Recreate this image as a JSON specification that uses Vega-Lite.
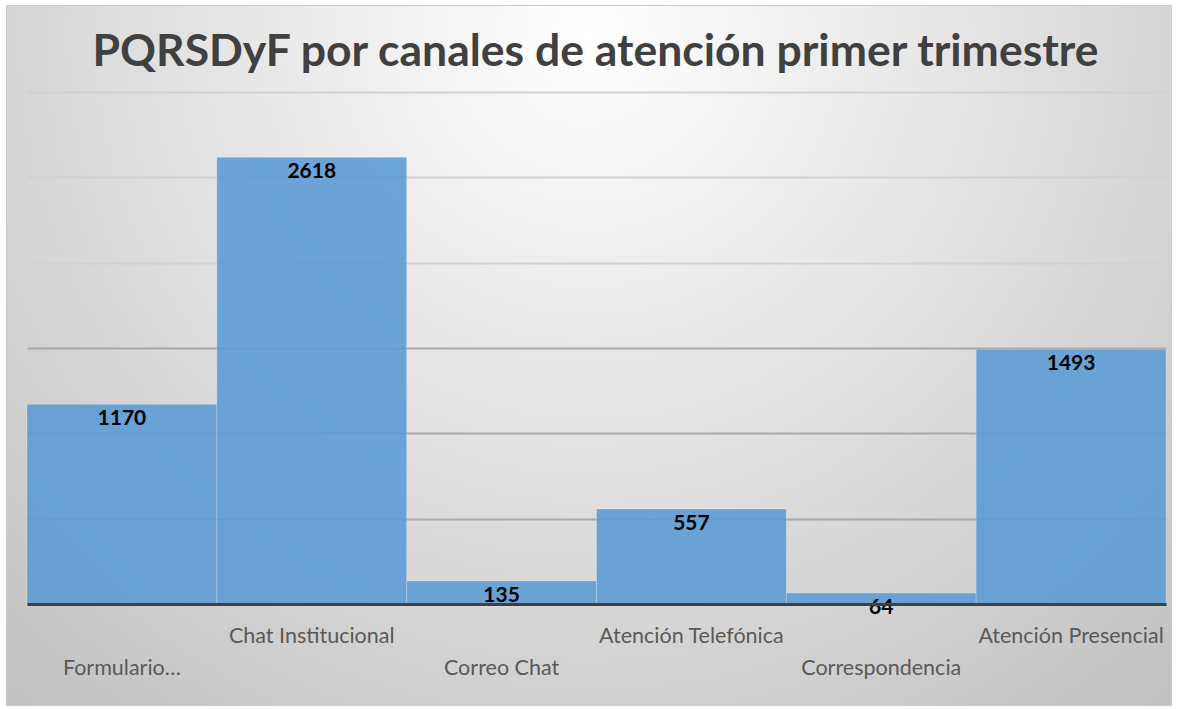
{
  "$schema": "https://vega.github.io/schema/vega-lite/v6.json",
  "width": 1165,
  "height": 700,
  "autosize": {"type": "none"},
  "padding": {"left": 6, "top": 5, "right": 6, "bottom": 4},
  "background": "#ffffff",
  "view": {
    "fill": {
      "gradient": "radial",
      "x1": 0.5, "y1": 0.225, "r1": 0,
      "x2": 0.5, "y2": 0.225, "r2": 0.8,
      "stops": [
        {"offset": 0, "color": "#ffffff"},
        {"offset": 1, "color": "#bebebe"}
      ]
    },
    "stroke": "#c8c8c8",
    "strokeWidth": 1
  },
  "title": {
    "text": "PQRSDyF por canales de atención primer trimestre",
    "font": "Lato",
    "fontSize": 44.5,
    "fontWeight": "bold",
    "color": "#404040",
    "anchor": "middle",
    "frame": "group",
    "baseline": "alphabetic",
    "offset": -105,
    "dx": 7
  },
  "data": {
    "values": [
      {"canal": "Formulario…", "valor": 1170},
      {"canal": "Chat Institucional", "valor": 2618},
      {"canal": "Correo Chat", "valor": 135},
      {"canal": "Atención Telefónica", "valor": 557},
      {"canal": "Correspondencia", "valor": 64},
      {"canal": "Atención Presencial", "valor": 1493}
    ]
  },
  "encoding": {
    "x": {
      "field": "canal",
      "type": "nominal",
      "sort": null,
      "scale": {"range": [21, 1160], "paddingInner": 0, "paddingOuter": 0},
      "axis": {
        "title": null,
        "orient": "bottom",
        "offset": -101,
        "zindex": 1,
        "domain": true,
        "domainColor": "#404040",
        "domainWidth": 3,
        "ticks": false,
        "grid": false,
        "labelAngle": 0,
        "labelFont": "Lato",
        "labelFontSize": 21.5,
        "labelColor": "#595959",
        "labelBaseline": "top",
        "labelPadding": 21,
        "labelLineHeight": 32,
        "labelOverlap": false,
        "labelLimit": 0,
        "labelExpr": "indexof(['Formulario…', 'Correo Chat', 'Correspondencia'], datum.value) >= 0 ? ['', datum.label] : datum.label"
      }
    }
  },
  "layer": [
    {
      "mark": {
        "type": "bar",
        "color": "#5b9bd5",
        "opacity": 0.88,
        "stroke": "#ffffff",
        "strokeOpacity": 0.25,
        "strokeWidth": 1
      },
      "encoding": {
        "y": {
          "field": "valor",
          "type": "quantitative",
          "scale": {"domain": [-592, 3510], "nice": false, "zero": false},
          "axis": {
            "title": null,
            "values": [500, 1000, 1500, 2000, 2500, 3000],
            "labels": false,
            "ticks": false,
            "domain": false,
            "grid": true,
            "gridWidth": 2,
            "gridColor": {"condition": {"test": "datum.value >= 2000", "value": "#d2d2d2"}, "value": "#a8a8a8"}
          }
        },
        "y2": {"datum": 0}
      }
    },
    {
      "mark": {
        "type": "text",
        "font": "Lato",
        "fontSize": 21,
        "fontWeight": "bold",
        "color": "#000000",
        "align": "center",
        "baseline": "middle",
        "dy": 15
      },
      "encoding": {
        "y": {"field": "valor", "type": "quantitative"},
        "text": {"field": "valor", "type": "quantitative"}
      }
    }
  ]
}
